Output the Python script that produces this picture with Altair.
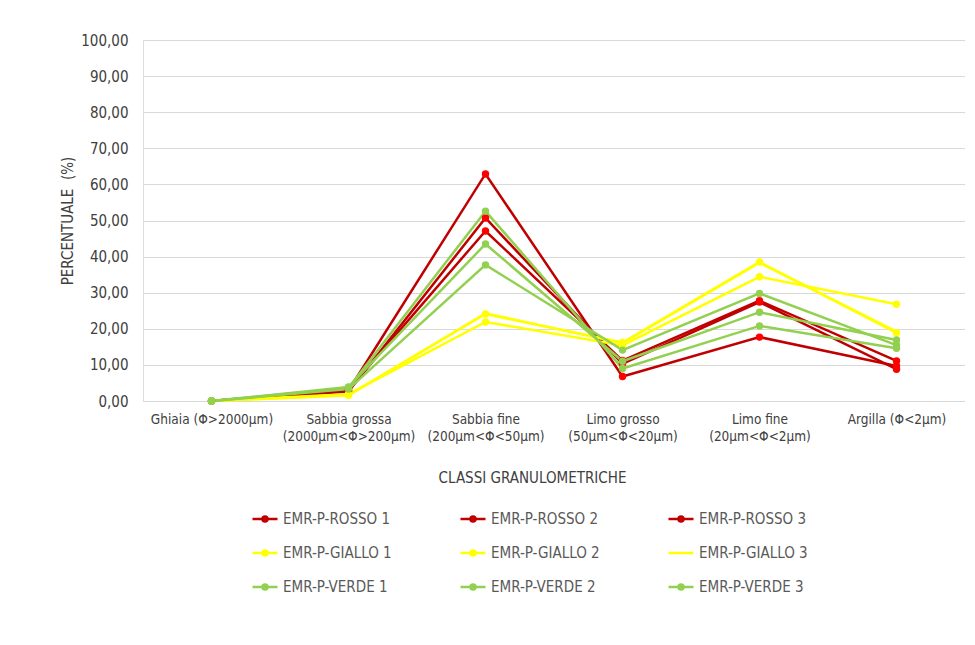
import altair as alt
import pandas as pd

categories = [
    "Ghiaia (Φ>2000μm)",
    "Sabbia grossa\n(2000μm<Φ>200μm)",
    "Sabbia fine\n(200μm<Φ<50μm)",
    "Limo grosso\n(50μm<Φ<20μm)",
    "Limo fine\n(20μm<Φ<2μm)",
    "Argilla (Φ<2μm)",
]

series = [
    "EMR-P-ROSSO 1", "EMR-P-ROSSO 2", "EMR-P-ROSSO 3",
    "EMR-P-GIALLO 1", "EMR-P-GIALLO 2", "EMR-P-GIALLO 3",
    "EMR-P-VERDE 1", "EMR-P-VERDE 2", "EMR-P-VERDE 3",
]

rosso_1 = [0.0, 2.9, 62.9, 6.8, 17.7, 9.7]
rosso_2 = [0.0, 2.6, 50.7, 10.3, 27.4, 8.8]
rosso_3 = [0.0, 3.2, 47.1, 11.2, 27.8, 11.1]
giallo_1 = [0.0, 1.6, 24.1, 16.2, 38.5, 18.9]
giallo_2 = [0.0, 1.9, 21.9, 15.4, 34.4, 26.8]
giallo_3 = [0.0, 1.6, 24.3, 16.0, 38.3, 19.2]
verde_1 = [0.0, 3.6, 52.6, 9.0, 20.8, 14.6]
verde_2 = [0.0, 3.9, 43.5, 11.0, 24.6, 16.9]
verde_3 = [0.0, 3.3, 37.7, 14.1, 29.8, 15.5]

values = [rosso_1, rosso_2, rosso_3, giallo_1, giallo_2, giallo_3, verde_1, verde_2, verde_3]
has_marker = [True, True, True, True, True, False, True, True, True]

y_ticks = [0, 10, 20, 30, 40, 50, 60, 70, 80, 90, 100]

line_colors = ["#C00000"] * 3 + ["#FFFF00"] * 3 + ["#92D050"] * 3
marker_colors = ["#FF0000"] * 3 + ["#FFFF00"] * 3 + ["#92D050"] * 3

dot_line = "M-1,0L1,0M-0.2,0A0.2,0.2,0,1,1,0.2,0A0.2,0.2,0,1,1,-0.2,0Z"
plain_line = "M-1,0L1,0"
legend_shapes = [dot_line if m else plain_line for m in has_marker]

rows = []
for s, vals, lc, mc, m in zip(series, values, line_colors, marker_colors, has_marker):
    for i, (c, v) in enumerate(zip(categories, vals)):
        rows.append({"series": s, "cat": c, "idx": i, "value": v,
                     "lcolor": lc, "mcolor": mc, "marker": m})
df = pd.DataFrame(rows)

FONT = "DejaVu Sans Condensed"
GREY = "#595959"
DARK = "#404040"

x_enc = alt.X(
    "cat:N",
    sort=categories,
    scale=alt.Scale(domain=categories, padding=0.5),
    axis=alt.Axis(
        title="CLASSI GRANULOMETRICHE",
        labelAngle=0,
        labelExpr="split(datum.label, '\\n')",
        labelFont=FONT, labelFontSize=13.5, labelColor=DARK, labelLineHeight=17,
        labelPadding=11, labelLimit=300,
        ticks=False, grid=False, domainColor="#D9D9D9", domainWidth=1,
        titleFont=FONT, titleFontSize=15, titleFontWeight="normal", titleColor=DARK,
        titlePadding=28, titleX=389,
    ),
)
y_enc = alt.Y(
    "value:Q",
    scale=alt.Scale(domain=[0, 100], nice=False),
    axis=alt.Axis(
        title="PERCENTUALE \u00a0(%)",
        values=y_ticks,
        tickCount=len(y_ticks) + 1,
        labelExpr="replace(format(datum.value, '.2f'), '.', ',')",
        labelOverlap=False,
        labelFont=FONT, labelFontSize=15, labelColor=DARK, labelPadding=15,
        ticks=False, domain=False, grid=True, gridColor="#D9D9D9", gridWidth=1,
        titleFont=FONT, titleFontSize=15, titleFontWeight="normal", titleColor=DARK,
        titlePadding=5,
    ),
)

lines = alt.Chart(df).mark_line(strokeWidth=2.5).encode(
    x=x_enc,
    y=y_enc,
    color=alt.Color("lcolor:N", scale=None),
    detail="series:N",
    order=alt.Order("idx:Q"),
)

points = alt.Chart(df).transform_filter("datum.marker").mark_point(
    filled=True, size=55, opacity=1, strokeWidth=0
).encode(
    x=x_enc,
    y=y_enc,
    fill=alt.Fill("mcolor:N", scale=None),
)

legend_layer = alt.Chart(df).transform_filter("false").mark_point(
    filled=True, size=625, opacity=1, strokeWidth=2.5
).encode(
    x=x_enc,
    y=y_enc,
    shape=alt.Shape(
        "series:N",
        scale=alt.Scale(domain=series, range=legend_shapes),
        legend=alt.Legend(
            title=None, orient="none", legendX=108, legendY=465, columns=3,
            direction="horizontal",
            columnPadding=63, rowPadding=12, symbolSize=625, symbolStrokeWidth=2.5,
            labelFont=FONT, labelFontSize=15, labelColor=GREY, labelOffset=4,
            labelLimit=300,
        ),
    ),
    fill=alt.Fill("series:N", scale=alt.Scale(domain=series, range=marker_colors)),
    stroke=alt.Stroke("series:N", scale=alt.Scale(domain=series, range=line_colors)),
)

chart = alt.layer(lines, points, legend_layer).properties(
    width=822,
    height=361,
    padding={"left": 135, "top": 32, "right": 0, "bottom": 230},
    autosize=alt.AutoSizeParams(type="none"),
).configure_view(stroke=None).configure(background="white")

chart.save("out.html", embed_options={"renderer": "svg", "actions": False})
